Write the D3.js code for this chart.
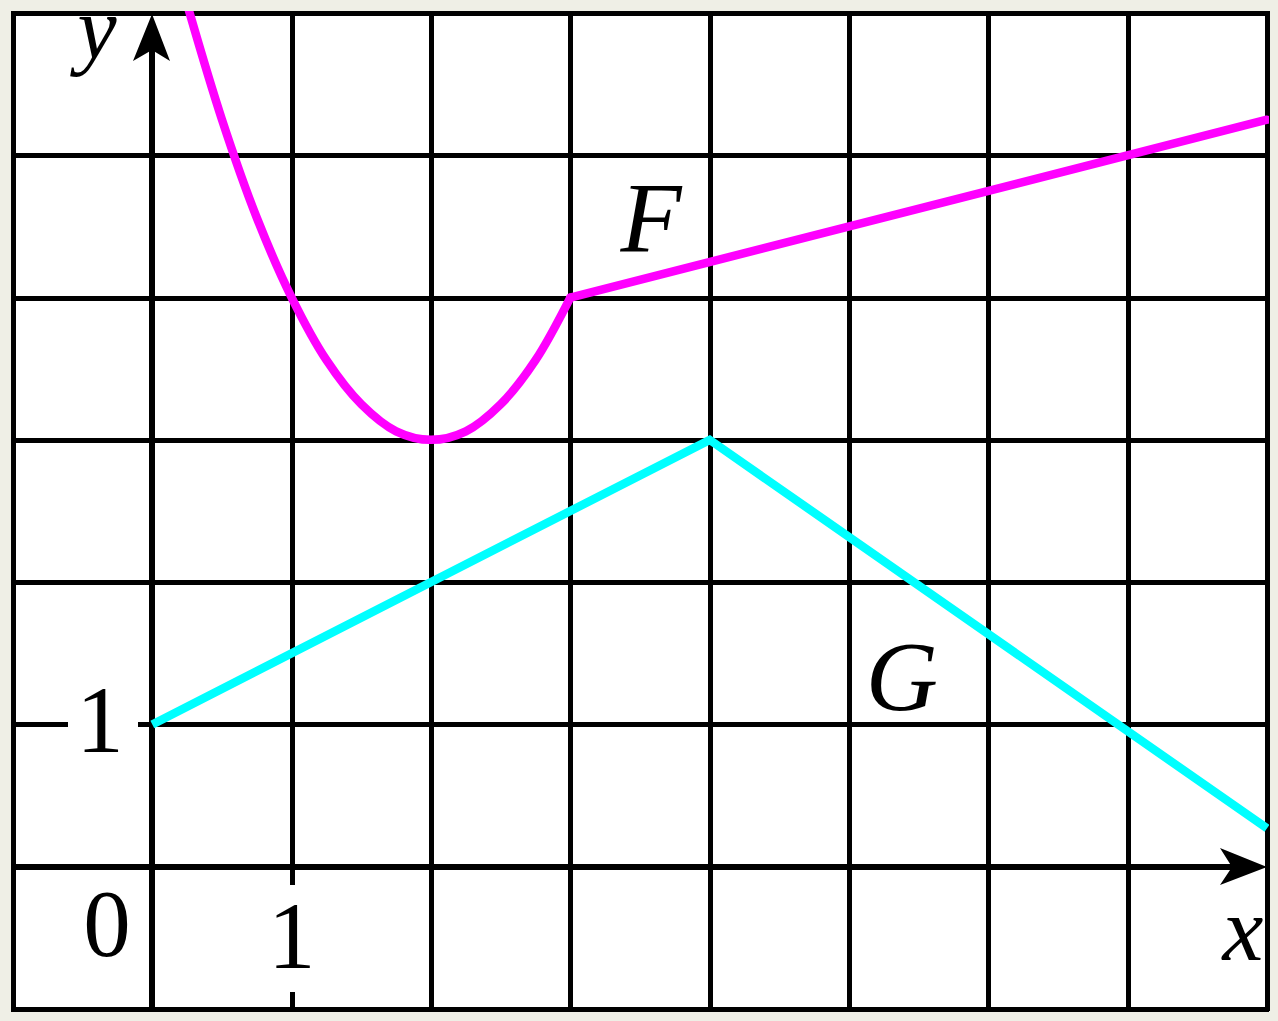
<!DOCTYPE html>
<html>
<head>
<meta charset="utf-8">
<script src="https://cdn.jsdelivr.net/npm/d3@7"></script>
<style>
  html, body { margin: 0; padding: 0; background: #efefe6; }
  svg { display: block; }
  text { font-family: "Liberation Serif", "Times New Roman", serif; fill: #000; }
</style>
</head>
<body>
<svg id="chart" width="1278" height="1021"></svg>
<script>
// ---- data ----
const gridX = [-1, 0, 1, 2, 3, 4, 5, 6, 7, 8];
const gridY = [-1, 0, 1, 2, 3, 4, 5, 6];
const xTickLabels = [{ v: 1, t: "1" }];
const yTickLabels = [{ v: 1, t: "1" }];
const originLabel = "0";

// F: curved part then straight part
const fCurveX = [0.25, 0.5, 0.75, 1, 1.25, 1.5, 1.75, 2, 2.25, 2.5, 2.75, 3];
const fCurveY = [6.06, 5.25, 4.56, 4, 3.56, 3.25, 3.06, 3, 3.06, 3.25, 3.56, 4];
const fLineX = [3, 8];
const fLineY = [4, 5.25];

// G: broken line
const gX = [0, 4, 8];
const gY = [1, 3, 0.27];

const curveLabels = [
  { name: "F", x: 3.36, y: 4.33 },
  { name: "G", x: 5.12, y: 1.10 }
];

// ---- drawing ----
const svg = d3.select("#chart");
const x = d3.scaleLinear().domain([-1, 8]).range([13, 1267]);
const y = d3.scaleLinear().domain([-1, 6]).range([1009, 13]);
const rx = v => Math.round(x(v));
const ry = v => Math.round(y(v));

svg.append("rect")
  .attr("x", rx(-1)).attr("y", ry(6))
  .attr("width", rx(8) - rx(-1)).attr("height", ry(-1) - ry(6))
  .attr("fill", "#fff");

const defs = svg.append("defs");
defs.append("clipPath").attr("id", "clip")
  .append("rect")
  .attr("x", x(-1) - 2).attr("y", y(6) - 2)
  .attr("width", x(8) - x(-1) + 4).attr("height", y(-1) - y(6) + 4);

// grid
const grid = svg.append("g").attr("stroke", "#000").attr("stroke-width", 5)
  .attr("shape-rendering", "crispEdges");
grid.selectAll("line.v").data(gridX.filter(d => d !== 0)).join("line")
  .attr("class", "v")
  .attr("x1", d => rx(d)).attr("x2", d => rx(d))
  .attr("y1", ry(6) - 2).attr("y2", ry(-1) + 2);
grid.selectAll("line.h").data(gridY.filter(d => d !== 0)).join("line")
  .attr("class", "h")
  .attr("y1", d => ry(d)).attr("y2", d => ry(d))
  .attr("x1", rx(-1) - 2).attr("x2", rx(8) + 2);

// axes
const axes = svg.append("g").attr("stroke", "#000").attr("stroke-width", 6)
  .attr("shape-rendering", "crispEdges");
axes.append("line")
  .attr("x1", rx(-1)).attr("x2", rx(8) - 30)
  .attr("y1", ry(0)).attr("y2", ry(0));
axes.append("line")
  .attr("x1", rx(0)).attr("x2", rx(0))
  .attr("y1", ry(-1)).attr("y2", ry(6) + 30);

// arrowheads
const xa = rx(8), ya = ry(0);
svg.append("path")
  .attr("d", `M${xa},${ya} L${xa - 47},${ya - 19} L${xa - 35},${ya} L${xa - 47},${ya + 18} Z`)
  .attr("fill", "#000");
const xb = rx(0), yb = ry(6) + 1;
svg.append("path")
  .attr("d", `M${xb},${yb} L${xb - 19},${yb + 47} L${xb},${yb + 36} L${xb + 18},${yb + 47} Z`)
  .attr("fill", "#000");

// tick labels with white backgrounds that interrupt grid lines
xTickLabels.forEach(d => {
  svg.append("rect")
    .attr("x", rx(d.v) - 8).attr("y", 885)
    .attr("width", 16).attr("height", 107)
    .attr("fill", "#fff");
  svg.append("text")
    .attr("x", x(d.v)).attr("y", 968)
    .attr("text-anchor", "middle")
    .attr("font-size", 95)
    .text(d.t);
});
yTickLabels.forEach(d => {
  svg.append("rect")
    .attr("x", 68).attr("y", ry(d.v) - 8)
    .attr("width", 70).attr("height", 16)
    .attr("fill", "#fff");
  svg.append("text")
    .attr("x", 100).attr("y", y(d.v) + 28)
    .attr("text-anchor", "middle")
    .attr("font-size", 95)
    .text(d.t);
});
svg.append("text")
  .attr("x", 107).attr("y", 956)
  .attr("text-anchor", "middle")
  .attr("font-size", 95)
  .text(originLabel);

// axis names
svg.append("text")
  .attr("x", 97).attr("y", 58)
  .attr("text-anchor", "middle")
  .attr("font-size", 88).attr("font-style", "italic")
  .text("y");
svg.append("text")
  .attr("x", 1243).attr("y", 960)
  .attr("text-anchor", "middle")
  .attr("font-size", 92).attr("font-style", "italic")
  .text("x");

// curves
const plot = svg.append("g").attr("clip-path", "url(#clip)");
const curveLine = d3.line().x(d => x(d[0])).y(d => y(d[1])).curve(d3.curveCatmullRom.alpha(0.5));
const straight = d3.line().x(d => x(d[0])).y(d => y(d[1]));

plot.append("path")
  .attr("d", straight(gX.map((v, i) => [v, gY[i]])))
  .attr("fill", "none").attr("stroke", "#00ffff").attr("stroke-width", 8.5)
  .attr("stroke-linejoin", "miter");

plot.append("path")
  .attr("d", curveLine(fCurveX.map((v, i) => [v, fCurveY[i]])))
  .attr("fill", "none").attr("stroke", "#ff00ff").attr("stroke-width", 8.5)
  .attr("stroke-linecap", "round");
plot.append("path")
  .attr("d", straight(fLineX.map((v, i) => [v, fLineY[i]])))
  .attr("fill", "none").attr("stroke", "#ff00ff").attr("stroke-width", 8.5)
  .attr("stroke-linecap", "round");

// curve labels
curveLabels.forEach(d => {
  svg.append("text")
    .attr("x", x(d.x)).attr("y", y(d.y))
    .attr("font-size", 100).attr("font-style", "italic")
    .text(d.name);
});
</script>
</body>
</html>
